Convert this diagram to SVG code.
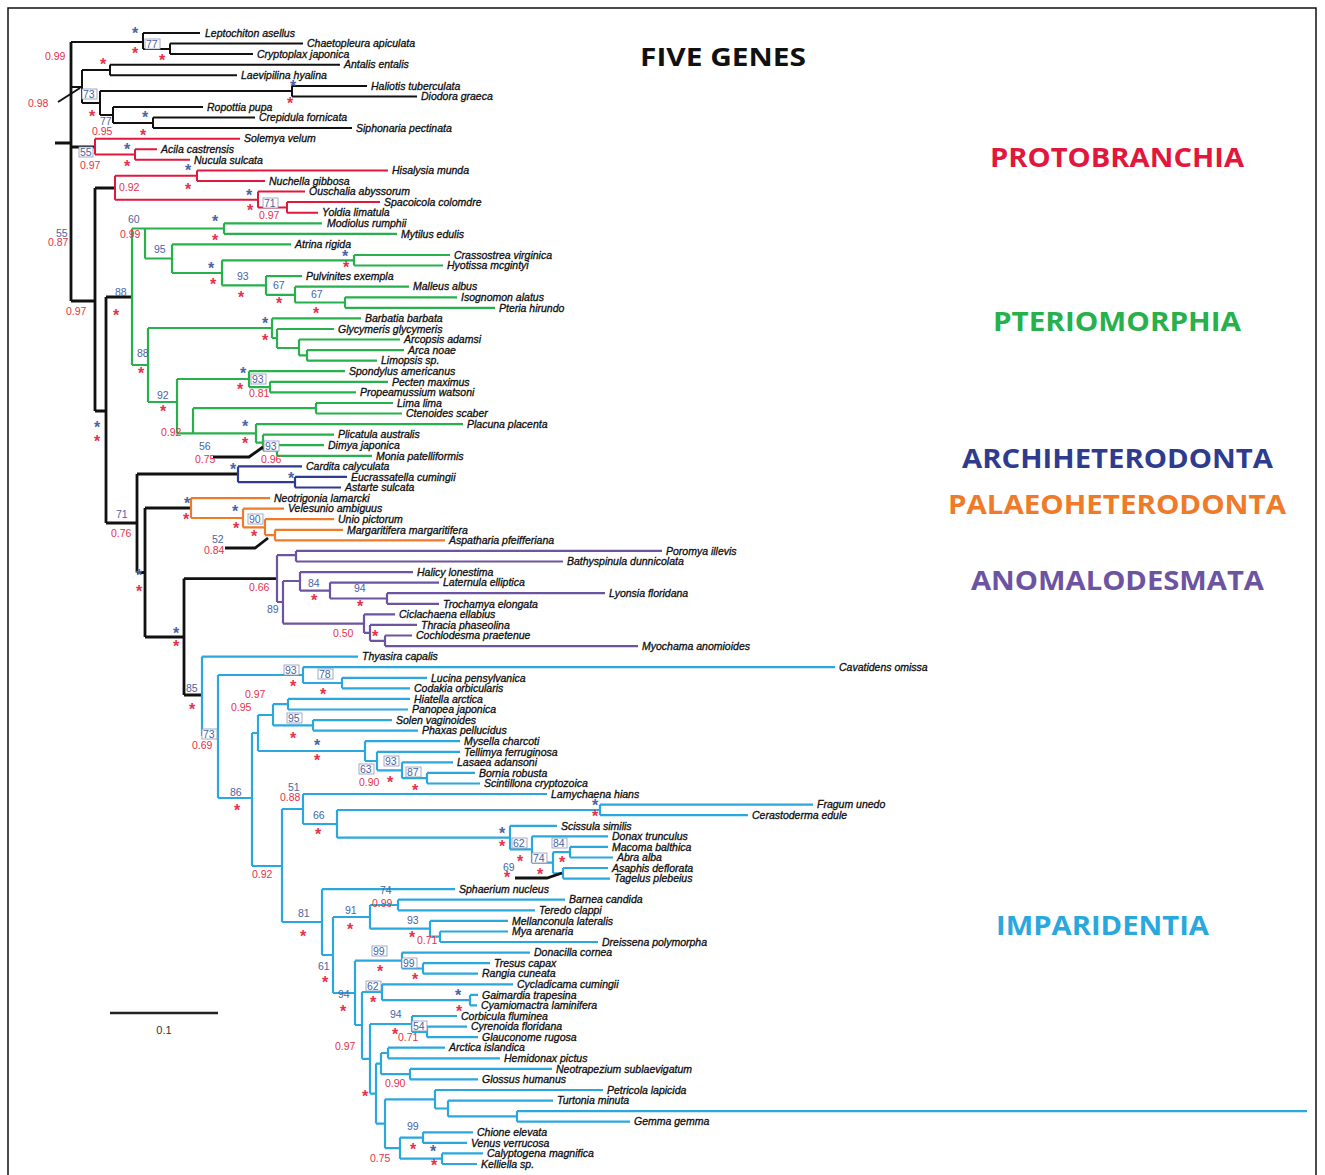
<svg xmlns="http://www.w3.org/2000/svg" width="1325" height="1175" viewBox="0 0 1325 1175">
<style>
  .k{fill:none;stroke:#111;stroke-width:2}
  .kb{fill:none;stroke:#111;stroke-width:2.8}
  .r{fill:none;stroke:#e2173d;stroke-width:2}
  .g{fill:none;stroke:#27b04b;stroke-width:2.2}
  .b{fill:none;stroke:#2e3b8f;stroke-width:2.2}
  .o{fill:none;stroke:#ef7b2a;stroke-width:2.2}
  .p{fill:none;stroke:#6c54a2;stroke-width:2.2}
  .c{fill:none;stroke:#2aa8de;stroke-width:2.2}
  .t{font-family:"Liberation Sans",Arial,sans-serif;font-style:italic;font-size:10.5px;fill:#0d0d0d;stroke:#0d0d0d;stroke-width:0.3}
  .n{font-family:"Liberation Sans",Arial,sans-serif;font-size:10.5px;fill:#4a64a6}
  .q{font-family:"Liberation Sans",Arial,sans-serif;font-size:10.5px;fill:#e8304a}
  .sb{font-family:"Liberation Sans",Arial,sans-serif;font-weight:bold;font-size:16px;fill:#4a64a6;text-anchor:middle}
  .sr{font-family:"Liberation Sans",Arial,sans-serif;font-weight:bold;font-size:16px;fill:#e8304a;text-anchor:middle}
  .bx{fill:#fff;stroke:#8a97b5;stroke-width:0.8}
  .cl{font-family:"Open Sans","Liberation Sans",Arial,sans-serif;font-weight:bold;font-size:27px}
</style>
<rect x="8" y="8" width="1308" height="1180" fill="#fff" stroke="#111" stroke-width="1.5"/>

<g id="connectors">
  <!-- backbone -->
  <path class="kb" d="M71 42V301M55 143H71M71 301H95M95 188V411M95 411H106M106 297V523M106 297H132M71 147H95M95 188H115M106 523H137M137 474V572.5M137 474H238M137 572.5H145M145 508V637M145 508H191M145 637H184M184 578.6V695M184 578.6H277M184 695H202"/>
  <!-- outgroups -->
  <path class="k" d="M71 42H143M143 33V49M143 33H200M143 49H170M170 43.6V54M170 43.6H303M170 54H253M71 87H82M82 70V103M82 70H110M110 64.7V75.3M110 64.7H340M110 75.3H237M82 103H100M100 91V115M100 91H292M292 85.9V96.4M292 85.9H367M292 96.4H417M100 115H113M113 107V123M113 107H203M113 123H153M153 117.6V128.1M153 117.6H255M153 128.1H352"/>
  <!-- Protobranchia -->
  <path class="r" d="M95 138.7V154.5M95 138.7H240M95 154.5H135M135 149.3V159.8M135 149.3H157M135 159.8H190M115 175.7V199.8M115 175.7H197M197 170.4V181M197 170.4H388M197 181H265M115 199.8H258M258 191.6V207.4M258 191.6H305M258 207.4H287M287 202.1V212.7M287 202.1H380M287 212.7H318"/>
  <!-- Pteriomorphia -->
  <path class="g" d="M132 228.5V365M132 228.5H224M224 223.3V233.8M224 223.3H322M224 233.8H397M145 228.5V258.5M145 258.5H172M172 244.4V273M172 244.4H291M172 273H222M222 260.3V285.4M222 260.3H354M354 255V265.5M354 255H450M354 265.5H443M222 285.4H266M266 276.1V294.8M266 276.1H302M266 294.8H295M295 286.7V302.5M295 286.7H409M295 302.5H345M345 297.3V307.8M345 297.3H457M345 307.8H495M132 365H148M148 328V402M148 328H272M272 318.4V338M272 318.4H361M272 338H277M277 329V348M277 329H334M277 348H299M299 339.5V355.4M299 339.5H400M299 355.4H307M307 350.1V360.7M307 350.1H404M307 360.7H377M148 402H177M177 379V433.4M177 379H249M249 371.2V387.1M249 371.2H345M249 387.1H270M270 381.8V392.4M270 381.8H388M270 392.4H356M193 408.2V433.4M193 408.2H316M316 403V413.5M316 403H393M316 413.5H402M177 433.4H256M256 424.1V442.7M256 424.1H463M256 442.7H263M263 434.7V450.5M263 434.7H334M263 450.5H277M277 445.2V455.8M277 445.2H324M277 455.8H372"/>
  <!-- Archiheterodonta -->
  <path class="b" d="M238 466.4V482.2M238 466.4H302M238 482.2H295M295 476.9V487.5M295 476.9H347M295 487.5H341"/>
  <!-- Palaeoheterodonta -->
  <path class="o" d="M191 498.1V518M191 498.1H270M191 518H243M243 508.7V527.4M243 508.7H284M243 527.4H265M265 519.2V535.1M265 519.2H334M265 535.1H275M275 529.8V540.4M275 529.8H343M275 540.4H445"/>
  <!-- Anomalodesmata -->
  <path class="p" d="M277 555.2V602M277 555.2H296M296 550.9V561.5M296 550.9H662M296 561.5H563M277 602H283M283 581V623.6M283 581H300M300 572.1V590.7M300 572.1H413M300 590.7H330M330 582.6V598.5M330 582.6H439M330 598.5H387M387 593.2V603.8M387 593.2H605M387 603.8H439M283 623.6H364M364 614.4V632.9M364 614.4H395M364 632.9H370M370 624.9V640.8M370 624.9H417M370 640.8H385M385 635.5V646.1M385 635.5H412M385 646.1H638"/>
  <!-- Imparidentia -->
  <path class="c" d="M202 656.6V736M202 656.6H358M202 736H218M218 675V798M218 675H303M303 667.2V683M303 667.2H835M303 683H342M342 677.8V688.3M342 677.8H427M342 688.3H410M218 798H252M252 733V866M252 733H258M258 715V751M258 715H273M273 704.2V725.4M273 704.2H288M288 698.9V709.5M288 698.9H410M288 709.5H408M273 725.4H313M313 720.1V730.6M313 720.1H392M313 730.6H418M258 751H365M365 741.2V761M365 741.2H460M365 761H377M377 751.8V770.3M377 751.8H460M377 770.3H402M402 762.3V778.2M402 762.3H453M402 778.2H427M427 772.9V783.5M427 772.9H475M427 783.5H480M252 866H282M282 809V922M282 809H303M303 794V824M303 794H547M303 824H337M337 810V837.7M337 810H600M600 804.6V815.2M600 804.6H813M600 815.2H748M337 837.7H510M510 825.8V849.4M510 825.8H557M510 849.4H532M532 836.3V862.7M532 836.3H608M532 862.7H553M553 852.2V873.3M553 852.2H570M570 846.9V857.5M570 846.9H608M570 857.5H613M553 873.3H563M563 868V878.6M563 868H608M563 878.6H610M282 922H322M322 889.2V955M322 889.2H455M322 955H333M333 917V993M333 917H370M370 905V928.7M370 905H398M398 899.7V910.3M398 899.7H565M398 910.3H535M370 928.7H430M430 920.9V936.7M430 920.9H508M430 936.7H440M440 931.5V942M440 931.5H508M440 942H598M333 993H355M355 960.7V1025M355 960.7H402M402 952.6V968.5M402 952.6H530M402 968.5H423M423 963.2V973.7M423 963.2H490M423 973.7H478M355 1025H362M362 992V1058.8M362 992H382M382 984.3V1000.2M382 984.3H513M382 1000.2H470M470 994.9V1005.4M470 994.9H478M470 1005.4H477M362 1058.8H370M370 1024V1093.6M370 1024H412M412 1016V1031.9M412 1016H457M412 1031.9H427M427 1026.6V1037.2M427 1026.6H467M427 1037.2H478M370 1093.6H376M376 1063.6V1123.6M376 1063.6H381M381 1053V1074.2M381 1053H388M388 1047.7V1058.3M388 1047.7H445M388 1058.3H500M381 1074.2H410M410 1068.9V1079.4M410 1068.9H552M410 1079.4H478M376 1123.6H385M385 1099.3V1148.2M385 1099.3H435M435 1090V1108.5M435 1090H603M435 1108.5H448M448 1100.6V1116.4M448 1100.6H553M448 1116.4H517M517 1111.1V1121.7M517 1111.1H1307M517 1121.7H630M385 1148.2H400M400 1137.6V1158.7M400 1137.6H423M423 1132.3V1142.9M423 1132.3H473M423 1142.9H467M400 1158.7H442M442 1153.4V1164M442 1153.4H483M442 1164H477"/>
  <!-- leader lines for crowded support values -->
  <path class="kb" d="M213 457H249L263 447M225 548H255L268 538M515 878H547L562 873"/>
  <path class="k" stroke-width="1.2" d="M58 102L80 88"/>
</g>

<g id="outgroup-taxa">
  <text class="t" x="205" y="36.7">Leptochiton asellus</text>
  <text class="t" x="307" y="47.3">Chaetopleura apiculata</text>
  <text class="t" x="257" y="57.8">Cryptoplax japonica</text>
  <text class="t" x="344" y="68.4">Antalis entalis</text>
  <text class="t" x="241" y="79">Laevipilina hyalina</text>
  <text class="t" x="371" y="89.6">Haliotis tuberculata</text>
  <text class="t" x="421" y="100.1">Diodora graeca</text>
  <text class="t" x="207" y="110.7">Ropottia pupa</text>
  <text class="t" x="259" y="121.3">Crepidula fornicata</text>
  <text class="t" x="356" y="131.8">Siphonaria pectinata</text>
</g>
<g id="protobranchia-taxa">
  <text class="t" x="244" y="142.4">Solemya velum</text>
  <text class="t" x="161" y="153">Acila castrensis</text>
  <text class="t" x="194" y="163.5">Nucula sulcata</text>
  <text class="t" x="392" y="174.1">Hisalysia munda</text>
  <text class="t" x="269" y="184.7">Nuchella gibbosa</text>
  <text class="t" x="309" y="195.3">Ouschalia abyssorum</text>
  <text class="t" x="384" y="205.8">Spacoicola colomdre</text>
  <text class="t" x="322" y="216.4">Yoldia limatula</text>
</g>
<g id="pteriomorphia-taxa">
  <text class="t" x="327" y="227">Modiolus rumphii</text>
  <text class="t" x="401" y="237.5">Mytilus edulis</text>
  <text class="t" x="295" y="248.1">Atrina rigida</text>
  <text class="t" x="454" y="258.7">Crassostrea virginica</text>
  <text class="t" x="447" y="269.2">Hyotissa mcgintyi</text>
  <text class="t" x="306" y="279.8">Pulvinites exempla</text>
  <text class="t" x="413" y="290.4">Malleus albus</text>
  <text class="t" x="461" y="301">Isognomon alatus</text>
  <text class="t" x="499" y="311.5">Pteria hirundo</text>
  <text class="t" x="365" y="322.1">Barbatia barbata</text>
  <text class="t" x="338" y="332.7">Glycymeris glycymeris</text>
  <text class="t" x="404" y="343.2">Arcopsis adamsi</text>
  <text class="t" x="408" y="353.8">Arca noae</text>
  <text class="t" x="381" y="364.4">Limopsis sp.</text>
  <text class="t" x="349" y="374.9">Spondylus americanus</text>
  <text class="t" x="392" y="385.5">Pecten maximus</text>
  <text class="t" x="360" y="396.1">Propeamussium watsoni</text>
  <text class="t" x="397" y="406.7">Lima lima</text>
  <text class="t" x="406" y="417.2">Ctenoides scaber</text>
  <text class="t" x="467" y="427.8">Placuna placenta</text>
  <text class="t" x="338" y="438.4">Plicatula australis</text>
  <text class="t" x="328" y="448.9">Dimya japonica</text>
  <text class="t" x="376" y="459.5">Monia patelliformis</text>
</g>
<g id="archiheterodonta-taxa">
  <text class="t" x="306" y="470.1">Cardita calyculata</text>
  <text class="t" x="351" y="480.6">Eucrassatella cumingii</text>
  <text class="t" x="345" y="491.2">Astarte sulcata</text>
</g>
<g id="palaeoheterodonta-taxa">
  <text class="t" x="274" y="501.8">Neotrigonia lamarcki</text>
  <text class="t" x="288" y="512.4">Velesunio ambiguus</text>
  <text class="t" x="338" y="522.9">Unio pictorum</text>
  <text class="t" x="347" y="533.5">Margaritifera margaritifera</text>
  <text class="t" x="449" y="544.1">Aspatharia pfeifferiana</text>
</g>
<g id="anomalodesmata-taxa">
  <text class="t" x="666" y="554.6">Poromya illevis</text>
  <text class="t" x="567" y="565.2">Bathyspinula dunnicolata</text>
  <text class="t" x="417" y="575.8">Halicy lonestima</text>
  <text class="t" x="443" y="586.3">Laternula elliptica</text>
  <text class="t" x="609" y="596.9">Lyonsia floridana</text>
  <text class="t" x="443" y="607.5">Trochamya elongata</text>
  <text class="t" x="399" y="618.1">Ciclachaena ellabius</text>
  <text class="t" x="421" y="628.6">Thracia phaseolina</text>
  <text class="t" x="416" y="639.2">Cochlodesma praetenue</text>
  <text class="t" x="642" y="649.8">Myochama anomioides</text>
</g>
<g id="imparidentia-taxa">
  <text class="t" x="362" y="660.3">Thyasira capalis</text>
  <text class="t" x="839" y="670.9">Cavatidens omissa</text>
  <text class="t" x="431" y="681.5">Lucina pensylvanica</text>
  <text class="t" x="414" y="692">Codakia orbicularis</text>
  <text class="t" x="414" y="702.6">Hiatella arctica</text>
  <text class="t" x="412" y="713.2">Panopea japonica</text>
  <text class="t" x="396" y="723.8">Solen vaginoides</text>
  <text class="t" x="422" y="734.3">Phaxas pellucidus</text>
  <text class="t" x="464" y="744.9">Mysella charcoti</text>
  <text class="t" x="464" y="755.5">Tellimya ferruginosa</text>
  <text class="t" x="457" y="766">Lasaea adansoni</text>
  <text class="t" x="479" y="776.6">Bornia robusta</text>
  <text class="t" x="484" y="787.2">Scintillona cryptozoica</text>
  <text class="t" x="551" y="797.7">Lamychaena hians</text>
  <text class="t" x="817" y="808.3">Fragum unedo</text>
  <text class="t" x="752" y="818.9">Cerastoderma edule</text>
  <text class="t" x="561" y="829.5">Scissula similis</text>
  <text class="t" x="612" y="840">Donax trunculus</text>
  <text class="t" x="612" y="850.6">Macoma balthica</text>
  <text class="t" x="617" y="861.2">Abra alba</text>
  <text class="t" x="612" y="871.7">Asaphis deflorata</text>
  <text class="t" x="614" y="882.3">Tagelus plebeius</text>
  <text class="t" x="459" y="892.9">Sphaerium nucleus</text>
  <text class="t" x="569" y="903.4">Barnea candida</text>
  <text class="t" x="539" y="914">Teredo clappi</text>
  <text class="t" x="512" y="924.6">Mellanconula lateralis</text>
  <text class="t" x="512" y="935.2">Mya arenaria</text>
  <text class="t" x="602" y="945.7">Dreissena polymorpha</text>
  <text class="t" x="534" y="956.3">Donacilla cornea</text>
  <text class="t" x="494" y="966.9">Tresus capax</text>
  <text class="t" x="482" y="977.4">Rangia cuneata</text>
  <text class="t" x="517" y="988">Cycladicama cumingii</text>
  <text class="t" x="482" y="998.6">Gaimardia trapesina</text>
  <text class="t" x="481" y="1009.1">Cyamiomactra laminifera</text>
  <text class="t" x="461" y="1019.7">Corbicula fluminea</text>
  <text class="t" x="471" y="1030.3">Cyrenoida floridana</text>
  <text class="t" x="482" y="1040.9">Glauconome rugosa</text>
  <text class="t" x="449" y="1051.4">Arctica islandica</text>
  <text class="t" x="504" y="1062">Hemidonax pictus</text>
  <text class="t" x="556" y="1072.6">Neotrapezium sublaevigatum</text>
  <text class="t" x="482" y="1083.1">Glossus humanus</text>
  <text class="t" x="607" y="1093.7">Petricola lapicida</text>
  <text class="t" x="557" y="1104.3">Turtonia minuta</text>
  <text class="t" x="634" y="1125.4">Gemma gemma</text>
  <text class="t" x="477" y="1136">Chione elevata</text>
  <text class="t" x="471" y="1146.6">Venus verrucosa</text>
  <text class="t" x="487" y="1157.1">Calyptogena magnifica</text>
  <text class="t" x="481" y="1167.7">Kelliella sp.</text>
</g>

<g id="support-boxes">
  <rect class="bx" x="145" y="39" width="15" height="10"/>
  <rect class="bx" x="82" y="89" width="15" height="10"/>
  <rect class="bx" x="79" y="147" width="14" height="10"/>
  <rect class="bx" x="263" y="198" width="15" height="10"/>
  <rect class="bx" x="251" y="374" width="15" height="10"/>
  <rect class="bx" x="264" y="441" width="15" height="10"/>
  <rect class="bx" x="248" y="514" width="15" height="10"/>
  <rect class="bx" x="202" y="729" width="15" height="10"/>
  <rect class="bx" x="284" y="665" width="15" height="10"/>
  <rect class="bx" x="318" y="669" width="15" height="10"/>
  <rect class="bx" x="287" y="713" width="15" height="10"/>
  <rect class="bx" x="359" y="764" width="15" height="10"/>
  <rect class="bx" x="384" y="756" width="15" height="10"/>
  <rect class="bx" x="406" y="767" width="15" height="10"/>
  <rect class="bx" x="512" y="838" width="15" height="10"/>
  <rect class="bx" x="532" y="853" width="15" height="10"/>
  <rect class="bx" x="552" y="838" width="15" height="10"/>
  <rect class="bx" x="372" y="946" width="15" height="10"/>
  <rect class="bx" x="402" y="958" width="15" height="10"/>
  <rect class="bx" x="366" y="981" width="15" height="10"/>
  <rect class="bx" x="412" y="1021" width="15" height="10"/>
</g>

<g id="bootstrap-values">
  <text class="n" x="146" y="48">77</text>
  <text class="n" x="83" y="98">73</text>
  <text class="n" x="100" y="125">77</text>
  <text class="n" x="80" y="156">55</text>
  <text class="n" x="264" y="207">71</text>
  <text class="n" x="56" y="237">55</text>
  <text class="n" x="128" y="223">60</text>
  <text class="n" x="154" y="253">95</text>
  <text class="n" x="237" y="280">93</text>
  <text class="n" x="273" y="289">67</text>
  <text class="n" x="311" y="298">67</text>
  <text class="n" x="115" y="296">88</text>
  <text class="n" x="137" y="357">88</text>
  <text class="n" x="157" y="399">92</text>
  <text class="n" x="252" y="383">93</text>
  <text class="n" x="265" y="450">93</text>
  <text class="n" x="199" y="450">56</text>
  <text class="n" x="116" y="518">71</text>
  <text class="n" x="249" y="523">90</text>
  <text class="n" x="212" y="543">52</text>
  <text class="n" x="308" y="587">84</text>
  <text class="n" x="354" y="592">94</text>
  <text class="n" x="267" y="613">89</text>
  <text class="n" x="186" y="692">85</text>
  <text class="n" x="203" y="738">73</text>
  <text class="n" x="285" y="674">93</text>
  <text class="n" x="319" y="678">78</text>
  <text class="n" x="288" y="722">95</text>
  <text class="n" x="360" y="773">63</text>
  <text class="n" x="385" y="765">93</text>
  <text class="n" x="407" y="776">87</text>
  <text class="n" x="230" y="796">86</text>
  <text class="n" x="288" y="791">51</text>
  <text class="n" x="313" y="819">66</text>
  <text class="n" x="513" y="847">62</text>
  <text class="n" x="533" y="862">74</text>
  <text class="n" x="553" y="847">84</text>
  <text class="n" x="503" y="871">69</text>
  <text class="n" x="298" y="917">81</text>
  <text class="n" x="345" y="914">91</text>
  <text class="n" x="380" y="894">74</text>
  <text class="n" x="407" y="924">93</text>
  <text class="n" x="318" y="970">61</text>
  <text class="n" x="338" y="998">94</text>
  <text class="n" x="373" y="955">99</text>
  <text class="n" x="403" y="967">99</text>
  <text class="n" x="367" y="990">62</text>
  <text class="n" x="390" y="1018">94</text>
  <text class="n" x="413" y="1030">54</text>
  <text class="n" x="407" y="1130">99</text>
</g>

<g id="posterior-values">
  <text class="q" x="45" y="60">0.99</text>
  <text class="q" x="28" y="107">0.98</text>
  <text class="q" x="92" y="135">0.95</text>
  <text class="q" x="80" y="169">0.97</text>
  <text class="q" x="119" y="191">0.92</text>
  <text class="q" x="259" y="219">0.97</text>
  <text class="q" x="48" y="246">0.87</text>
  <text class="q" x="66" y="315">0.97</text>
  <text class="q" x="120" y="238">0.99</text>
  <text class="q" x="249" y="397">0.81</text>
  <text class="q" x="161" y="436">0.92</text>
  <text class="q" x="261" y="463">0.96</text>
  <text class="q" x="195" y="463">0.75</text>
  <text class="q" x="111" y="537">0.76</text>
  <text class="q" x="204" y="554">0.84</text>
  <text class="q" x="249" y="591">0.66</text>
  <text class="q" x="333" y="637">0.50</text>
  <text class="q" x="192" y="749">0.69</text>
  <text class="q" x="245" y="698">0.97</text>
  <text class="q" x="231" y="711">0.95</text>
  <text class="q" x="359" y="786">0.90</text>
  <text class="q" x="280" y="801">0.88</text>
  <text class="q" x="252" y="878">0.92</text>
  <text class="q" x="372" y="907">0.99</text>
  <text class="q" x="417" y="944">0.71</text>
  <text class="q" x="398" y="1041">0.71</text>
  <text class="q" x="335" y="1050">0.97</text>
  <text class="q" x="385" y="1087">0.90</text>
  <text class="q" x="370" y="1162">0.75</text>
</g>

<g id="full-support-marks">
  <text class="sb" x="135" y="39">*</text>
  <text class="sr" x="135" y="59">*</text>
  <text class="sr" x="162" y="66">*</text>
  <text class="sr" x="103" y="70">*</text>
  <text class="sr" x="92" y="122">*</text>
  <text class="sb" x="293" y="92">*</text>
  <text class="sr" x="290" y="109">*</text>
  <text class="sb" x="145" y="123">*</text>
  <text class="sr" x="143" y="141">*</text>
  <text class="sb" x="127" y="155">*</text>
  <text class="sr" x="127" y="172">*</text>
  <text class="sb" x="188" y="176">*</text>
  <text class="sr" x="188" y="195">*</text>
  <text class="sb" x="249" y="201">*</text>
  <text class="sr" x="250" y="216">*</text>
  <text class="sb" x="215" y="227">*</text>
  <text class="sr" x="215" y="246">*</text>
  <text class="sb" x="211" y="274">*</text>
  <text class="sr" x="213" y="290">*</text>
  <text class="sb" x="345" y="262">*</text>
  <text class="sr" x="346" y="273">*</text>
  <text class="sr" x="241" y="303">*</text>
  <text class="sr" x="279" y="309">*</text>
  <text class="sr" x="316" y="319">*</text>
  <text class="sr" x="116" y="321">*</text>
  <text class="sr" x="141" y="379">*</text>
  <text class="sb" x="265" y="329">*</text>
  <text class="sr" x="265" y="346">*</text>
  <text class="sr" x="163" y="417">*</text>
  <text class="sb" x="243" y="379">*</text>
  <text class="sr" x="240" y="395">*</text>
  <text class="sb" x="245" y="432">*</text>
  <text class="sr" x="245" y="449">*</text>
  <text class="sb" x="97" y="433">*</text>
  <text class="sr" x="97" y="447">*</text>
  <text class="sb" x="233" y="475">*</text>
  <text class="sb" x="291" y="484">*</text>
  <text class="sb" x="187" y="509">*</text>
  <text class="sr" x="186" y="525">*</text>
  <text class="sb" x="235" y="517">*</text>
  <text class="sr" x="236" y="534">*</text>
  <text class="sr" x="254" y="542">*</text>
  <text class="sb" x="139" y="581">*</text>
  <text class="sr" x="139" y="597">*</text>
  <text class="sb" x="176" y="639">*</text>
  <text class="sr" x="176" y="652">*</text>
  <text class="sr" x="314" y="606">*</text>
  <text class="sr" x="360" y="612">*</text>
  <text class="sr" x="375" y="642">*</text>
  <text class="sr" x="192" y="715">*</text>
  <text class="sr" x="293" y="692">*</text>
  <text class="sr" x="323" y="700">*</text>
  <text class="sr" x="293" y="744">*</text>
  <text class="sb" x="317" y="751">*</text>
  <text class="sr" x="317" y="766">*</text>
  <text class="sr" x="390" y="788">*</text>
  <text class="sr" x="415" y="796">*</text>
  <text class="sr" x="237" y="816">*</text>
  <text class="sr" x="318" y="840">*</text>
  <text class="sb" x="595" y="811">*</text>
  <text class="sr" x="595" y="822">*</text>
  <text class="sb" x="502" y="839">*</text>
  <text class="sr" x="502" y="852">*</text>
  <text class="sr" x="520" y="867">*</text>
  <text class="sr" x="540" y="880">*</text>
  <text class="sr" x="562" y="868">*</text>
  <text class="sr" x="507" y="883">*</text>
  <text class="sr" x="303" y="942">*</text>
  <text class="sr" x="350" y="935">*</text>
  <text class="sr" x="412" y="943">*</text>
  <text class="sr" x="325" y="988">*</text>
  <text class="sr" x="343" y="1017">*</text>
  <text class="sr" x="380" y="977">*</text>
  <text class="sr" x="415" y="985">*</text>
  <text class="sr" x="373" y="1008">*</text>
  <text class="sb" x="458" y="1001">*</text>
  <text class="sr" x="459" y="1017">*</text>
  <text class="sr" x="395" y="1040">*</text>
  <text class="sr" x="365" y="1102">*</text>
  <text class="sr" x="413" y="1155">*</text>
  <text class="sb" x="433" y="1157">*</text>
  <text class="sr" x="434" y="1171">*</text>
</g>

<g id="title">
  <text x="640" y="66" font-family="'Open Sans','Liberation Sans',Arial,sans-serif" font-weight="bold" font-size="25" fill="#111" textLength="166" lengthAdjust="spacingAndGlyphs">FIVE GENES</text>
</g>
<g id="clade-names">
  <text class="cl" x="990" y="167" fill="#e2173d" textLength="254" lengthAdjust="spacingAndGlyphs">PROTOBRANCHIA</text>
  <text class="cl" x="993" y="331" fill="#27b04b" textLength="248" lengthAdjust="spacingAndGlyphs">PTERIOMORPHIA</text>
  <text class="cl" x="962" y="468" fill="#2e3b8f" textLength="311" lengthAdjust="spacingAndGlyphs">ARCHIHETERODONTA</text>
  <text class="cl" x="948" y="514" fill="#ef7b2a" textLength="338" lengthAdjust="spacingAndGlyphs">PALAEOHETERODONTA</text>
  <text class="cl" x="971" y="590" fill="#6c54a2" textLength="293" lengthAdjust="spacingAndGlyphs">ANOMALODESMATA</text>
  <text class="cl" x="996" y="935" fill="#2aa8de" textLength="213" lengthAdjust="spacingAndGlyphs">IMPARIDENTIA</text>
</g>
<g id="scale-bar">
  <path d="M110 1013H218" stroke="#222" stroke-width="2.5"/>
  <text x="164" y="1034" font-family="'Liberation Sans',Arial,sans-serif" font-size="11" fill="#333" text-anchor="middle">0.1</text>
</g>
</svg>
